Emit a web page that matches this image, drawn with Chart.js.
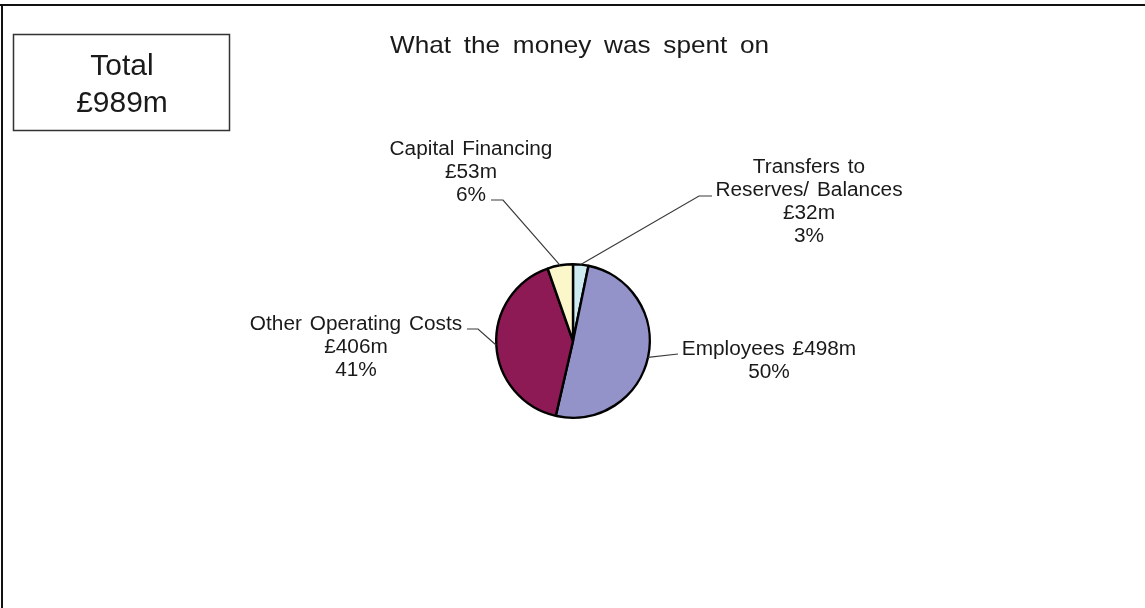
<!DOCTYPE html>
<html>
<head>
    <meta charset="utf-8" />
    <title>What the money was spent on</title>
    <script src="https://cdn.jsdelivr.net/npm/chart.js@4/dist/chart.umd.min.js"></script>
    <style>
        html, body { margin: 0; padding: 0; background: #fff; }
        canvas { display: block; }
    </style>
</head>
<body>
<canvas id="canvasGasto" width="1145" height="608"></canvas>
<script type="text/javascript">

    // spending categories, clockwise from 12 o'clock
    var categories = ["Transfers to Reserves/ Balances", "Employees", "Other Operating Costs", "Capital Financing"];
    var amounts = [32, 498, 406, 53];          // £m
    var percentLabels = ["3%", "50%", "41%", "6%"];
    var sliceColors = ["#cdebf0", "#9393c9", "#8e1a55", "#fbf7cb"];

    // how each label is split over lines (the amount and % get added below)
    var labelLines = [
        ["Transfers to", "Reserves/ Balances"],
        ["Employees"],
        ["Other Operating Costs"],
        ["Capital Financing"]
    ];

    var total = amounts.reduce(function (a, b) { return a + b; }, 0);

    // where the callouts sit: elbow / end of the leader line and text block
    var callouts = [
        { elbow: [699, 196], end: [712, 196], cx: 809, base: 173, inline: false },
        { elbow: null,       end: [678, 354], cx: 769, base: 355, inline: true },
        { elbow: [478, 329], end: [467, 329], cx: 356, base: 330, inline: false },
        { elbow: [503, 200], end: [491, 200], cx: 471, base: 155, inline: false }
    ];

    function stretchText(ctx, text, x, y, sx) {
        ctx.save();
        ctx.translate(x, y);
        ctx.scale(sx, 1);
        ctx.fillText(text, 0, 0);
        ctx.restore();
    }

    var decoracion = {
        id: 'decoracion',
        beforeDraw: function (chart) {
            var ctx = chart.ctx;
            ctx.save();
            // frame: top and left edges
            ctx.fillStyle = '#111';
            ctx.fillRect(0, 4, chart.width, 2);
            ctx.fillRect(1, 4, 2, chart.height);

            // "Total" box
            ctx.strokeStyle = '#333';
            ctx.lineWidth = 1.5;
            ctx.strokeRect(13.5, 34.5, 216, 96);
            ctx.fillStyle = '#1a1a1a';
            ctx.font = '30px "Liberation Sans", Arial, sans-serif';
            ctx.textAlign = 'center';
            ctx.textBaseline = 'alphabetic';
            ctx.fillText('Total', 122, 75);
            ctx.fillText('£' + total + 'm', 122, 112);

            // title
            ctx.font = '24px "Liberation Sans", Arial, sans-serif';
            ctx.textAlign = 'left';
            ctx.wordSpacing = '5px';
            stretchText(ctx, 'What the money was spent on', 390, 53, 1.09);
            ctx.restore();
        },
        afterDatasetsDraw: function (chart) {
            var ctx = chart.ctx;
            var arcs = chart.getDatasetMeta(0).data;
            ctx.save();
            ctx.strokeStyle = '#3a3a3a';
            ctx.lineWidth = 1.2;
            ctx.fillStyle = '#1a1a1a';
            ctx.font = '20px "Liberation Sans", Arial, sans-serif';
            ctx.textAlign = 'center';
            ctx.textBaseline = 'alphabetic';
            ctx.wordSpacing = '2px';

            arcs.forEach(function (arc, i) {
                var p = arc.getProps(['x', 'y', 'startAngle', 'endAngle', 'outerRadius'], true);
                var mid = (p.startAngle + p.endAngle) / 2;
                var sx = p.x + Math.cos(mid) * p.outerRadius;
                var sy = p.y + Math.sin(mid) * p.outerRadius;
                var c = callouts[i];

                ctx.beginPath();
                ctx.moveTo(sx, sy);
                if (c.elbow) ctx.lineTo(c.elbow[0], c.elbow[1]);
                ctx.lineTo(c.end[0], c.end[1]);
                ctx.stroke();

                var lines = labelLines[i].slice();
                var amount = '£' + amounts[i] + 'm';
                if (c.inline) {
                    lines[lines.length - 1] += ' ' + amount;
                } else {
                    lines.push(amount);
                }
                lines.push(percentLabels[i]);

                lines.forEach(function (txt, k) {
                    stretchText(ctx, txt, c.cx, c.base + k * 23, 1.04);
                });
            });
            ctx.restore();
        }
    };

    var config = {
        type: 'pie',
        data: {
            labels: categories,
            datasets: [{
                data: amounts,
                backgroundColor: sliceColors,
                borderColor: '#000',
                borderWidth: 2.4
            }]
        },
        options: {
            responsive: false,
            animation: false,
            events: [],
            layout: {
                padding: { left: 495, right: 494, top: 263, bottom: 189 }
            },
            plugins: {
                legend: { display: false },
                tooltip: { enabled: false },
                title: { display: false }
            }
        },
        plugins: [decoracion]
    };

    var ctx = document.getElementById("canvasGasto").getContext("2d");
    var grafico = new Chart(ctx, config);

</script>
</body>
</html>
